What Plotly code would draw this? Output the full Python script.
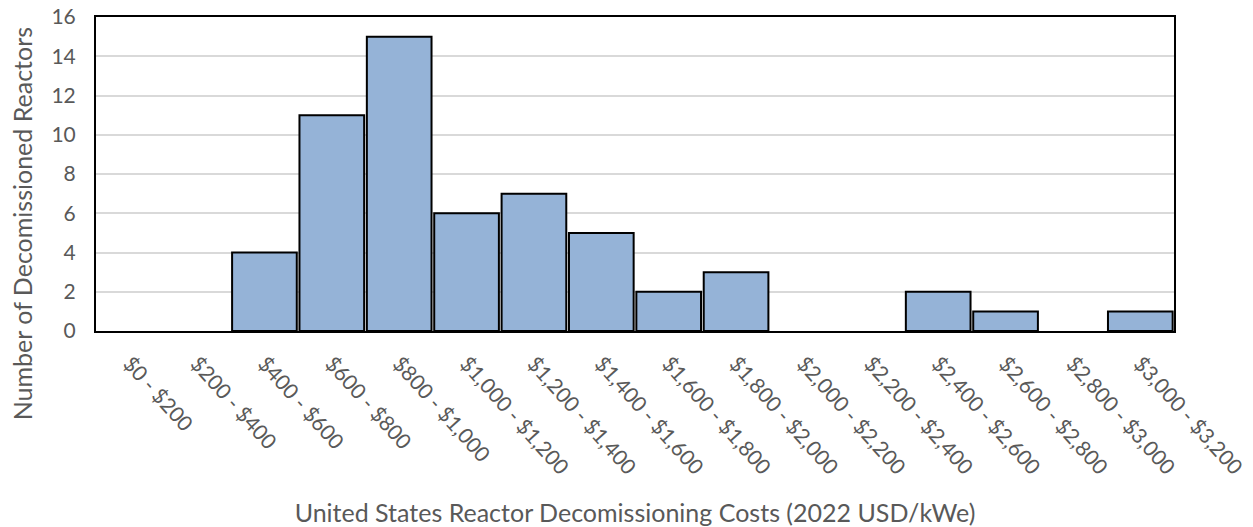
import plotly.graph_objects as go

# Cost bins (2022 USD/kWe) and number of decommissioned reactors in each
cost_bins = [
    "$0 - $200", "$200 - $400", "$400 - $600", "$600 - $800", "$800 - $1,000",
    "$1,000 - $1,200", "$1,200 - $1,400", "$1,400 - $1,600", "$1,600 - $1,800",
    "$1,800 - $2,000", "$2,000 - $2,200", "$2,200 - $2,400", "$2,400 - $2,600",
    "$2,600 - $2,800", "$2,800 - $3,000", "$3,000 - $3,200",
]
reactor_counts = [0, 0, 4, 11, 15, 6, 7, 5, 2, 3, 0, 0, 2, 1, 0, 1]
y_ticks = [0, 2, 4, 6, 8, 10, 12, 14, 16]

TEXT = "#595959"
FONT = "Lato, 'Open Sans', sans-serif"
CLEAR = "rgba(0,0,0,0)"

# empty bins get no outline, like the original
outline_widths = [2 if c > 0 else 0 for c in reactor_counts]

fig = go.Figure(
    go.Bar(
        x=cost_bins,
        y=reactor_counts,
        marker=dict(color="#95b3d7", line=dict(color="black", width=outline_widths)),
    )
)

fig.update_layout(
    width=1253,
    height=527,
    margin=dict(l=96, r=79, t=17, b=196),
    paper_bgcolor="white",
    plot_bgcolor="white",
    bargap=0.04,
    showlegend=False,
    font=dict(family=FONT, color=TEXT),
    xaxis=dict(
        automargin=False,
        tickangle=48,
        tickfont=dict(size=21, color=TEXT),
        showline=True,
        linecolor="black",
        linewidth=2,
        mirror=True,
        ticks="outside",
        ticklen=10,
        tickcolor=CLEAR,
        title=dict(
            text="United States Reactor Decomissioning Costs (2022 USD/kWe)",
            font=dict(size=25, color=TEXT),
            standoff=36,
        ),
    ),
    yaxis=dict(
        automargin=False,
        range=[0, 16],
        tickvals=y_ticks,
        tickfont=dict(size=21, color=TEXT),
        ticklabeloverflow="allow",
        showgrid=True,
        gridcolor="#d9d9d9",
        gridwidth=2,
        zeroline=False,
        showline=True,
        linecolor="black",
        linewidth=2,
        mirror=True,
        ticks="outside",
        ticklen=14,
        tickcolor=CLEAR,
    ),
    annotations=[
        dict(
            text="Number of Decomissioned Reactors",
            textangle=-90,
            xref="paper",
            yref="paper",
            x=-0.0686,
            y=0.34,
            xanchor="center",
            yanchor="middle",
            showarrow=False,
            font=dict(size=25, color=TEXT),
        )
    ],
)

# drop the default 8px page margin so the figure fills the window exactly
fig.write_html(
    "out.html",
    config={"displayModeBar": False},
    post_script="document.body.style.margin='0';",
)
